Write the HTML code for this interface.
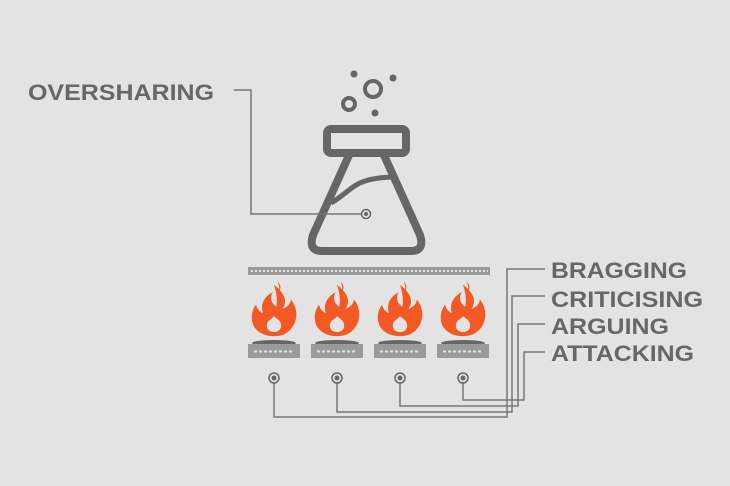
<!DOCTYPE html>
<html><head><style>
html,body{margin:0;padding:0;background:#e3e3e3;}
svg{display:block;}
text{font-family:"Liberation Sans",sans-serif;font-weight:bold;fill:#676767;font-size:22px;}
</style></head><body>
<svg width="730" height="486" viewBox="0 0 730 486" xmlns="http://www.w3.org/2000/svg">
<defs>
<g id="fl">
<g transform="translate(0,-1) scale(1.2,1.05)">
<path d="M0,-25 C8,-18 12,-10 7,-2 C12,-4 14,-8 14,-11 C20,-3 20,8 15,16 C11,22 6,24 0,24 C-6,24 -12,22 -16,16 C-20,9 -19,0 -15,-6 C-14,-2 -12,1 -9,2 C-12,-6 -8,-14 -1,-18 C-4,-12 -2,-7 2,-4 C3,-11 2,-18 0,-25 Z" fill="#f15a24"/>
<path d="M3,-28 C6,-25 6,-21 4,-18 C5,-22 4,-25 3,-28Z" fill="#f15a24"/>
<path d="M0,5 C2,7 6,9 6,14 C6,18 3,20 0,20 C-3,20 -6,18 -6,14 C-6,9 -2,8 0,5Z" fill="#e3e3e3"/>
</g>
<ellipse cx="0" cy="31" rx="22" ry="3" fill="#666"/>
<rect x="-26" y="32" width="52" height="14" fill="#9a9a9a"/>
<line x1="-20" y1="39.5" x2="20" y2="39.5" stroke="#e3e3e3" stroke-width="2" stroke-dasharray="3,2"/>
</g>
</defs>
<text x="28" y="100" textLength="186" lengthAdjust="spacingAndGlyphs">OVERSHARING</text>
<text x="551" y="278" textLength="136" lengthAdjust="spacingAndGlyphs">BRAGGING</text>
<text x="551" y="307" textLength="152" lengthAdjust="spacingAndGlyphs">CRITICISING</text>
<text x="551" y="334" textLength="118" lengthAdjust="spacingAndGlyphs">ARGUING</text>
<text x="551" y="361" textLength="143" lengthAdjust="spacingAndGlyphs">ATTACKING</text>
<!-- flask -->
<g fill="none" stroke="#666" stroke-width="8" stroke-linejoin="round">
<rect x="327" y="129" width="79" height="24" rx="4"/>
<path d="M350,153 L313,235 Q308,251 322,251 L411,251 Q425,251 420,235 L383,153"/>
</g>
<path d="M331,203 C345,195 352,185 365,181 C378,177 392,177 396,177" fill="none" stroke="#666" stroke-width="5"/>
<circle cx="373" cy="89" r="8" fill="none" stroke="#666" stroke-width="4"/>
<circle cx="349" cy="104" r="6" fill="none" stroke="#666" stroke-width="4"/>
<circle cx="354" cy="74" r="3.5" fill="#666"/>
<circle cx="393" cy="78" r="3.5" fill="#666"/>
<circle cx="375" cy="113" r="3.5" fill="#666"/>
<!-- oversharing connector -->
<polyline points="234,90 251,90 251,214 362,214" fill="none" stroke="#777" stroke-width="1.5"/>
<circle cx="366" cy="214" r="4.5" fill="none" stroke="#666" stroke-width="1.5"/>
<circle cx="366" cy="214" r="2" fill="#666"/>
<!-- top bar -->
<rect x="248" y="267" width="242" height="8" fill="#9a9a9a"/>
<line x1="251" y1="271" x2="488" y2="271" stroke="#e3e3e3" stroke-width="2" stroke-dasharray="2,2"/>
<!-- flames -->
<use href="#fl" x="274" y="312"/>
<use href="#fl" x="337" y="312"/>
<use href="#fl" x="400" y="312"/>
<use href="#fl" x="463" y="312"/>
<!-- connectors -->
<g fill="none" stroke="#777" stroke-width="1.5">
<polyline points="274,383 274,417 507,417 507,269 545,269"/>
<polyline points="337,383 337,412 512,412 512,296 545,296"/>
<polyline points="400,383 400,406 518,406 518,324 545,324"/>
<polyline points="463,383 463,400 524,400 524,352 545,352"/>
</g>
<g fill="none" stroke="#666" stroke-width="1.5">
<circle cx="274" cy="378" r="5"/><circle cx="337" cy="378" r="5"/><circle cx="400" cy="378" r="5"/><circle cx="463" cy="378" r="5"/>
</g>
<g fill="#666">
<circle cx="274" cy="378" r="2.5"/><circle cx="337" cy="378" r="2.5"/><circle cx="400" cy="378" r="2.5"/><circle cx="463" cy="378" r="2.5"/>
</g>
</svg>
</body></html>
